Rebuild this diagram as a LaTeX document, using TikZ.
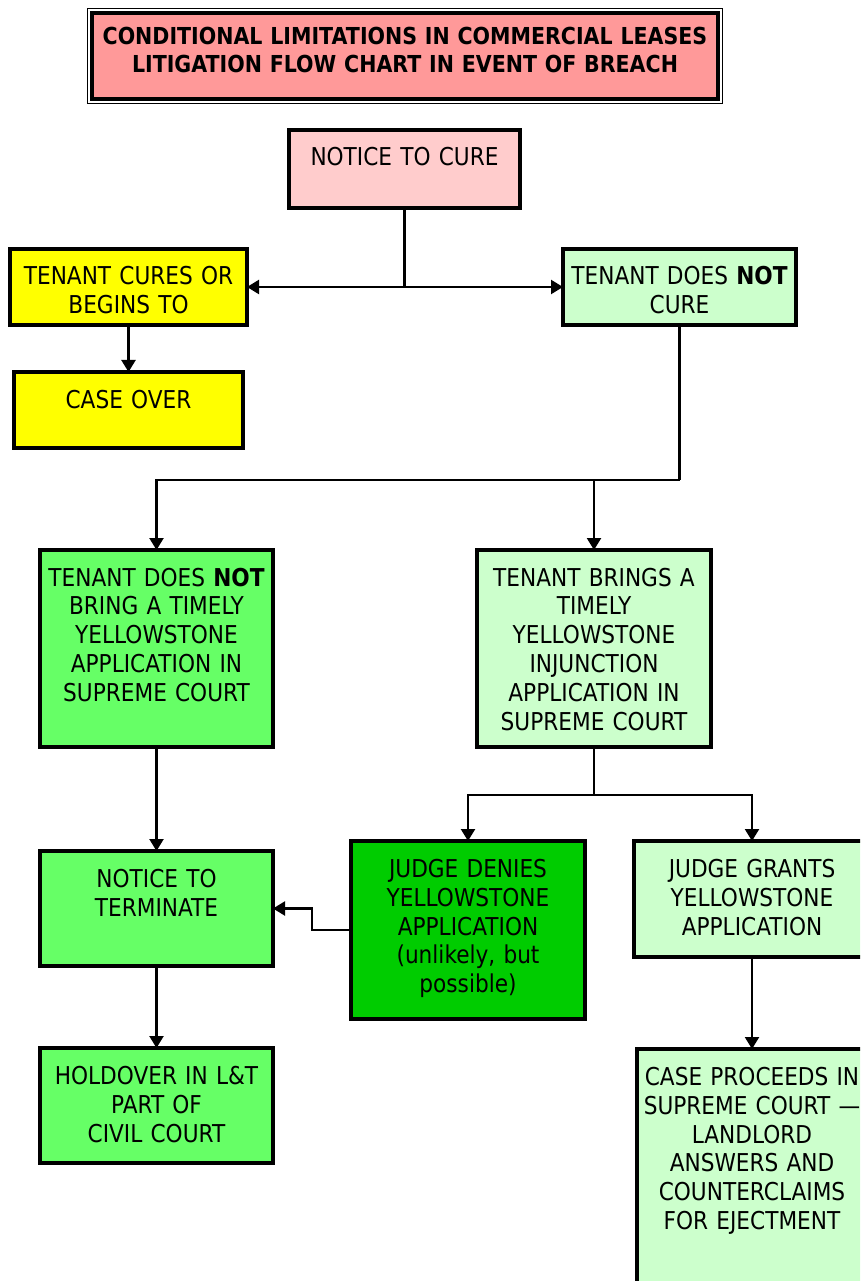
\documentclass[tikz,border=0pt]{standalone}
\usepackage{fontspec}
\setmainfont{DejaVu Sans}[FakeStretch=0.88]
\usetikzlibrary{arrows.meta}

\definecolor{titlered}{HTML}{FF9999}
\definecolor{curepink}{HTML}{FFCCCC}
\definecolor{cureyellow}{HTML}{FFFF00}
\definecolor{palegreen}{HTML}{CCFFCC}
\definecolor{midgreen}{HTML}{66FF66}
\definecolor{deepgreen}{HTML}{00CC00}

\begin{document}
\begin{tikzpicture}[x=0.2mm, y=-0.2mm,
    stage/.style n args={3}{draw, line width=0.7mm, fill=#3, anchor=north west,
        inner sep=0pt, outer sep=0pt,
        minimum width=#1*0.2mm, text width=#1*0.2mm, align=center,
        text height=7.2mm, text depth=#2*0.2mm-7.2mm,
        font=\fontsize{14pt}{16.5pt}\selectfont},
    flow/.style={line width=0.45mm, -{Triangle[length=2.4mm, width=2.8mm]}},
    link/.style={line width=0.45mm}]
    \useasboundingbox (0,0) rectangle (860,1281);
    \clip (0,0) rectangle (860,1281);

    % Title banner
    \node[draw, line width=0.9mm, fill=titlered, anchor=north west, inner sep=0pt, outer sep=0pt,
        minimum width=125.2mm, text width=125.2mm, align=center,
        text height=6.4mm, text depth=10.8mm,
        font=\bfseries\fontsize{13.3pt}{15.4pt}\selectfont] (title) at (92,13)
        {CONDITIONAL LIMITATIONS IN COMMERCIAL LEASES\\LITIGATION FLOW CHART IN EVENT OF BREACH};
    \draw[line width=0.35mm] ([shift={(-0.9mm,0.9mm)}]title.north west) rectangle ([shift={(0.9mm,-0.9mm)}]title.south east);

    % First notice and the two answers
    \node[stage={231}{78}{curepink}] (notice) at (289,130) {NOTICE TO CURE};
    \node[stage={237}{76}{cureyellow}] (cures) at (10,249) {TENANT CURES OR\\BEGINS TO};
    \node[stage={233}{76}{palegreen}] (nocure) at (563,249) {TENANT DOES \textbf{NOT}\\CURE};
    \node[stage={229}{76}{cureyellow}] (caseover) at (14,372) {CASE OVER};

    % Yellowstone or not
    \node[stage={233}{197}{midgreen}] (nobring) at (40,550)
        {TENANT DOES \textbf{NOT}\\BRING A TIMELY\\YELLOWSTONE\\APPLICATION IN\\SUPREME COURT};
    \node[stage={234}{197}{palegreen}] (brings) at (477,550)
        {TENANT BRINGS A\\TIMELY\\YELLOWSTONE\\INJUNCTION\\APPLICATION IN\\SUPREME COURT};

    % Judge decides
    \node[stage={233}{115}{midgreen}] (terminate) at (40,851) {NOTICE TO\\TERMINATE};
    \node[stage={234}{178}{deepgreen}] (denies) at (351,841)
        {JUDGE DENIES\\YELLOWSTONE\\APPLICATION\\(unlikely, but\\possible)};
    \node[stage={236}{116}{palegreen}] (grants) at (634,841) {JUDGE GRANTS\\YELLOWSTONE\\APPLICATION};

    % Outcomes
    \node[stage={233}{115}{midgreen}] (holdover) at (40,1048) {HOLDOVER IN L\&T\\PART OF\\CIVIL COURT};
    \node[stage={230}{260}{palegreen}] (proceeds) at (637,1049)
        {CASE PROCEEDS IN\\SUPREME COURT —\\LANDLORD\\ANSWERS AND\\COUNTERCLAIMS\\FOR EJECTMENT};

    % Connectors
    \draw[flow] (notice.south) |- (cures.east);
    \draw[flow] (notice.south) |- (nocure.west);
    \draw[flow] (cures.south) -- (caseover.north);

    \coordinate (split) at (679.5,480);
    \draw[link] (nocure.south) -- (split);
    \draw[flow] (split) -| (nobring.north);
    \draw[flow] (split) -| (brings.north);

    \coordinate (fork) at (594,795);
    \draw[link] (brings.south) -- (fork);
    \draw[flow] (fork) -| (denies.north);
    \draw[flow] (fork) -| (grants.north);

    \draw[flow] (nobring.south) -- (terminate.north);
    \draw[flow] (denies.west) -- ++(-39,0) |- (terminate.east);
    \draw[flow] (terminate.south) -- (holdover.north);
    \draw[flow] (grants.south) -- (proceeds.north);
\end{tikzpicture}
\end{document}
